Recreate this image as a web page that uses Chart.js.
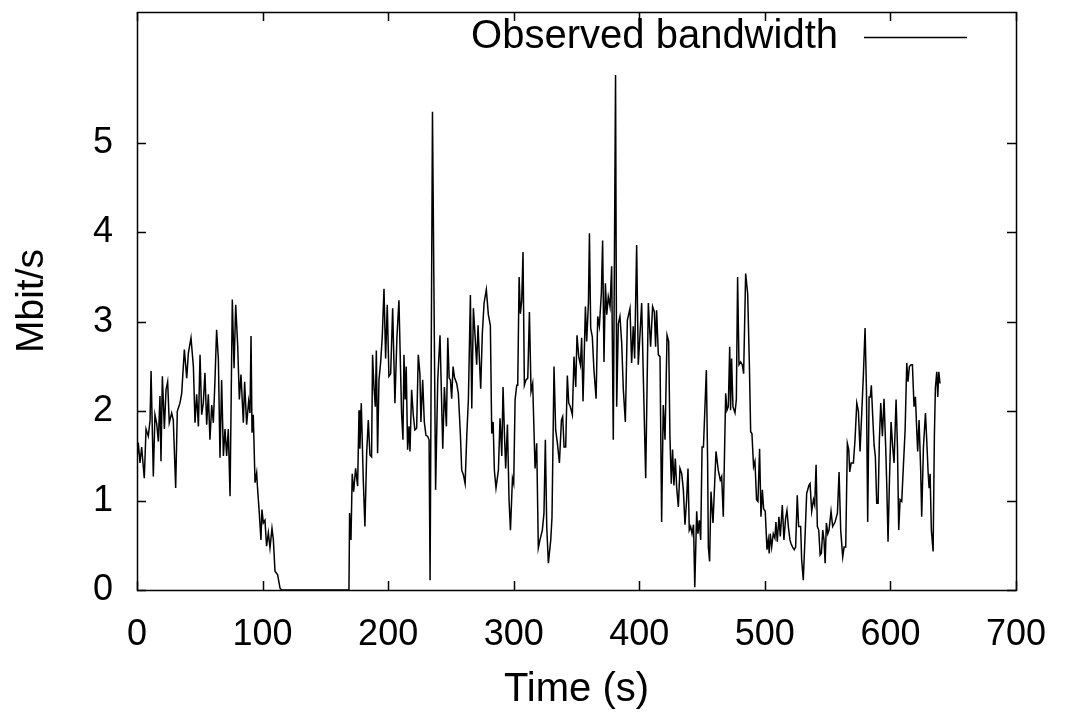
<!DOCTYPE html>
<html>
<head>
<meta charset="utf-8">
<script src="https://cdn.jsdelivr.net/npm/chart.js@4.4.1/dist/chart.umd.min.js"></script>
<style>
  html, body { margin: 0; padding: 0; background: #ffffff; }
  #wrap { width: 1072px; height: 716px; }
</style>
</head>
<body>
<div id="wrap"><canvas id="c" width="1072" height="716"></canvas></div>
<script>
// ---- data ----
const seriesLabel = "Observed bandwidth";
const xTitle = "Time (s)";
const yTitle = "Mbit/s";
const xTickValues = [0, 100, 200, 300, 400, 500, 600, 700];
const yTickValues = [0, 1, 2, 3, 4, 5];

// time (s) of each vertex of the trace
const times = [
  0, 1, 2.4, 3.7, 5.8, 7.2, 9, 10.4, 11.2, 13, 14.3, 15.7, 17, 18.3, 19.1, 20.2, 21.8, 23.1, 24.4, 25.7,
  27.6, 28.9, 30.8, 32.1, 34.2, 35.6, 37.7, 39.6, 40.9, 43, 44.9, 46.2, 47.5, 48.9, 50.2, 51.5, 52.8, 54.1, 55.5, 56.8,
  58.1, 59.5, 60.8, 62.1, 63.4, 64.8, 66.1, 67.4, 68.8, 70.1, 71.4, 72.7, 74.1, 75.9, 77.3, 78.6, 80.2, 81.5, 82.8, 84.7,
  85.7, 87.3, 88.9, 90, 90.8, 91.6, 92.6, 94, 95.3, 95.8, 97.4, 98.7, 99.5, 100.6, 101.9, 103.2, 104.6, 105.9, 107.5, 108.6,
  109.9, 112, 113.9, 115.2, 168.8,
  169.3, 170.4, 171.4, 172.5, 174.1, 175.7, 176.8, 177.5, 178.6, 180.2, 181.5, 182.9, 184.2, 185.5, 186.8, 187.6, 188.7, 189.8, 190.6, 191.6,
  192.7, 194, 195.3, 196.7, 198, 199.3, 200.6, 202, 203.6, 205.4, 207, 208.6, 209.7, 210.7, 211.8, 212.6, 213.6, 214.4, 215.5, 216.6,
  217.4, 218.7, 220, 221.3, 222.7, 224, 225.3, 226.1, 227.5, 228.8, 230.1, 231.4, 232.6, 233.4, 235.3, 237.8, 239.5, 241.3, 243.5, 244.8,
  246.4, 247.5, 248.6, 249.6, 250.6, 251.7, 252.8, 254.6, 255.9, 257.5, 258.6, 259.9, 261.3, 262.6, 263.9, 265.5, 266.6, 267.9, 269.2, 270.5,
  271.6, 272.7, 273.7, 275, 276.4, 278.2, 279.8, 281.4, 282.5, 283.6, 284.6, 285.9, 287.8, 289.1, 290.5, 291.5, 292.6, 293.6, 295, 296.3,
  297.4, 299, 300, 301.1, 302.4, 303.2, 304.3, 305.3, 306.4, 307.4, 308.5, 309.8, 311.2, 312.5, 313.8, 315.1, 317, 318.3, 319.6, 320.9,
  322.8, 324.1, 325.2, 326.3, 327.6, 329.5, 330.5, 332.1, 333.4, 334.8, 336.4, 338, 339, 340.1, 341.4, 342.7, 343.8, 345.1, 346.7, 348,
  349.4, 350.4, 351.8, 353.1, 354.1, 355.2, 356, 357.1, 358.1, 359.5, 360.3, 361.3, 362.6, 363.9, 365.6, 366.9, 368.2, 369.8, 370.8, 371.9,
  373, 374.1, 375.3, 376.7, 378, 379.3, 381.1, 382, 383.3, 384.6, 386, 387.3, 388.9, 390.5, 392.6, 393.9, 395.2, 396.3, 397.9, 399.2,
  400.6, 401.9, 403.2, 405.1, 407.2, 409, 410.6, 412, 413, 413.8, 415.2, 416.5, 417.8, 419.1, 420.5, 422.1, 423.4, 424.4, 425.5, 426.5,
  427.6, 428.7, 429.8, 431.1, 432.4, 433.8, 435.1, 436.4, 437.7, 438.8, 439.8, 440.9, 442, 443.2, 444.2, 445.7, 446.7, 447.8, 448.9, 450,
  451.1, 452.3, 453.4, 454.4, 455, 456, 457.1, 458.7, 461.1, 462.9, 464.5, 465.6, 466.9, 468.8, 469.8, 470.9, 472, 472.7, 473.5, 474.6,
  476.2, 477.3, 478.3, 479.4, 480.7, 482, 483.1, 484.7, 486.3, 487.6, 488.7, 489.7, 491, 492.1, 493.4, 494.5, 495.8, 496.9, 498, 499,
  500.3, 501.7, 502.7, 503.5, 504.3, 505.4, 506.7, 508, 508.8, 509.9, 511.2, 512.3, 513.9, 515.2, 516.5, 517.6, 518.7, 520, 520.8, 522.1,
  523.4, 524.5, 525.8, 526.9, 528.5, 529.3, 530.6, 531.9, 533.3, 535.1, 536, 537.3, 538.7, 539.7, 540.8, 541.8, 542.9, 544, 545, 546.1,
  547.1, 548, 549, 550.1, 551.1, 552.7, 554, 555.9, 557.8, 559.1, 560.4, 562, 563.1, 564.4, 565.7, 566.8, 567.6, 568.7, 570.5, 571.8,
  573.2, 574.5, 575.8, 577.1, 578.5, 579.8, 580.9, 581.9, 583, 584, 584.8, 585.9, 587, 588, 589.1, 590.2, 591.2, 592.3, 593.6, 594.9,
  596.3, 597.1, 598.1, 599.2, 600.5, 601.8, 602.9, 604.5, 605.6, 606.6, 607.7, 609, 610.3, 611.7, 613, 614, 615.1, 616.4, 617.5, 618.8,
  619.9, 620.9, 621.7, 622.8, 624.1, 624.9, 626.3, 627.9, 628.9, 630, 630.8, 631.6, 632.6, 634, 635, 635.8, 636.9, 637.7, 638.5, 639.5
];

// observed bandwidth (Mbit/s) at each vertex
const bandwidth = [
  1.45, 1.65, 1.42, 1.6, 1.25, 1.8, 1.72, 1.9, 2.45, 1.27, 1.96, 1.86, 1.66, 2.17, 1.44, 2.39, 1.8, 2.24, 2.33, 1.87,
  1.98, 1.9, 1.14, 2.0, 2.09, 2.2, 2.69, 2.37, 2.65, 2.82, 2.5, 1.87, 2.19, 1.83, 2.63, 1.96, 2.09, 2.43, 1.85, 2.19,
  1.68, 2.07, 1.87, 2.35, 2.91, 2.58, 1.48, 2.35, 1.5, 1.8, 1.5, 1.8, 1.05, 3.25, 2.48, 3.19, 2.73, 2.13, 2.41, 1.87,
  2.33, 1.85, 2.11, 1.98, 2.84, 1.76, 1.96, 1.2, 1.31, 1.18, 0.86, 0.56, 0.9, 0.75, 0.78, 0.49, 0.64, 0.47, 0.69, 0.56,
  0.21, 0.17, 0.02, 0, 0,
  0.86, 0.56, 1.3, 1.1, 1.36, 1.16, 2.01, 1.58, 2.09, 1.23, 0.71, 1.53, 1.9, 1.51, 1.49, 2.63, 2.27, 2.05, 2.68, 1.53,
  2.35, 2.54, 2.83, 3.37, 2.59, 3.19, 2.39, 2.42, 3.15, 2.09, 2.83, 3.24, 2.57, 1.98, 1.68, 2.63, 2.13, 2.5, 1.57, 1.83,
  1.55, 2.24, 1.96, 1.79, 1.81, 2.63, 2.42, 1.88, 2.35, 1.88, 1.73, 1.72, 1.68, 0.11, 5.35, 1.12, 2.35, 2.85, 1.58, 2.27,
  1.83, 2.82, 2.37, 2.35, 2.14, 2.5, 2.38, 2.31, 2.2, 1.75, 1.34, 1.29, 1.19, 1.72, 2.13, 3.3, 2.03, 3.15, 2.85, 2.52,
  2.96, 2.57, 2.25, 2.87, 3.21, 3.36, 3.08, 2.96, 1.75, 1.88, 1.34, 1.14, 1.34, 1.92, 1.5, 2.27, 1.75, 1.36, 1.85, 1.0,
  0.67, 1.25, 1.19, 2.13, 2.29, 2.29, 3.5, 3.09, 3.24, 3.78, 2.29, 2.35, 2.37, 3.11, 2.22, 2.31, 1.36, 1.64, 0.47, 0.56,
  0.67, 0.86, 1.68, 0.71, 0.3, 0.56, 0.82, 2.5, 1.79, 1.64, 1.42, 1.9, 1.94, 1.6, 1.6, 2.4, 2.09, 2.05, 1.96, 2.61,
  2.27, 2.85, 2.61, 2.52, 2.82, 2.11, 2.54, 3.17, 2.78, 3.21, 3.99, 2.93, 2.83, 2.46, 2.14, 3.06, 2.95, 3.32, 3.91, 2.55,
  3.43, 3.08, 3.28, 3.17, 3.62, 1.68, 5.76, 2.05, 2.98, 3.06, 2.76, 2.24, 1.88, 3.02, 3.15, 2.54, 2.95, 2.59, 3.86, 2.52,
  2.87, 3.21, 2.39, 1.25, 3.21, 2.72, 3.17, 3.11, 2.72, 3.13, 2.63, 2.61, 0.76, 2.07, 1.68, 2.85, 2.78, 1.72, 1.19, 1.57,
  1.17, 1.47, 1.14, 0.93, 1.36, 1.3, 1.12, 0.73, 1.01, 1.36, 0.67, 0.71, 0.63, 0.73, 0.03, 0.88, 0.63, 0.78, 0.56, 1.6,
  1.6, 2.05, 2.46, 1.45, 0.48, 0.32, 1.1, 0.75, 1.55, 1.34, 1.23, 1.27, 0.82, 2.2, 2.01, 2.05, 2.72, 2.01, 2.59, 2.05,
  1.98, 2.13, 3.5, 2.52, 2.55, 2.52, 2.42, 3.54, 3.32, 2.57, 1.77, 1.75, 1.38, 1.44, 1.01, 0.99, 1.58, 0.82, 1.12, 0.91,
  0.88, 0.45, 0.56, 0.41, 0.63, 0.48, 0.63, 0.58, 0.76, 0.54, 0.82, 0.6, 0.95, 0.56, 0.8, 0.89, 0.71, 0.56, 0.52, 0.48,
  0.45, 0.48, 1.06, 0.71, 0.71, 0.34, 0.11, 0.56, 1.08, 1.17, 1.19, 0.88, 1.01, 0.95, 1.4, 0.71, 0.67, 0.39, 0.41, 0.67,
  0.56, 0.3, 0.75, 0.63, 0.67, 0.88, 0.71, 0.76, 0.86, 1.32, 0.67, 0.37, 0.48, 0.48, 1.64, 1.57, 1.32, 1.42, 1.42, 1.68,
  2.09, 2.0, 1.55, 1.96, 2.42, 2.93, 2.24, 0.76, 2.16, 2.16, 2.29, 1.94, 1.62, 1.49, 0.97, 0.97, 1.68, 2.09, 1.72, 2.14,
  1.57, 1.16, 0.54, 1.21, 1.88, 1.6, 1.42, 2.13, 1.6, 0.67, 1.01, 0.99, 1.38, 1.79, 2.54, 2.33, 2.5, 2.52, 2.52, 2.05,
  2.16, 1.81, 1.55, 1.9, 1.34, 0.82, 1.6, 1.98, 1.68, 1.32, 1.14, 1.3, 0.67, 0.43, 1.72, 2.26, 2.44, 2.16, 2.44, 2.31
];

// ---- chart ----
const FONT = "'Liberation Sans', Arial, Helvetica, sans-serif";
const points = times.map((t, i) => ({ x: t, y: bandwidth[i] }));

const framePlugin = {
  id: 'gnuplotFrame',
  afterDatasetsDraw(chart) {
    const { ctx, chartArea: a, scales } = chart;
    const tick = 9;
    ctx.save();
    ctx.strokeStyle = '#000';
    ctx.lineWidth = 1.5;
    ctx.beginPath();
    xTickValues.forEach(v => {
      const px = Math.round(scales.x.getPixelForValue(v)) + 0.5;
      ctx.moveTo(px, a.bottom); ctx.lineTo(px, a.bottom - tick);
      ctx.moveTo(px, a.top); ctx.lineTo(px, a.top + tick);
    });
    yTickValues.forEach(v => {
      const py = Math.round(scales.y.getPixelForValue(v)) + 0.5;
      ctx.moveTo(a.left, py); ctx.lineTo(a.left + tick, py);
      ctx.moveTo(a.right, py); ctx.lineTo(a.right - tick, py);
    });
    ctx.stroke();
    ctx.strokeRect(a.left + 0.5, a.top + 0.5, a.right - a.left, a.bottom - a.top);
    // key (legend) in gnuplot style: text then line sample
    const ds = chart.data.datasets[0];
    const ky = a.top + 25;
    ctx.fillStyle = '#000';
    ctx.font = '40px ' + FONT;
    ctx.textAlign = 'right';
    ctx.textBaseline = 'middle';
    ctx.fillText(ds.label, a.right - 178, ky);
    ctx.beginPath();
    ctx.lineWidth = ds.borderWidth;
    ctx.strokeStyle = ds.borderColor;
    ctx.moveTo(a.right - 152, ky + 0.5);
    ctx.lineTo(a.right - 49, ky + 0.5);
    ctx.stroke();
    ctx.restore();
  }
};

new Chart(document.getElementById('c'), {
  type: 'line',
  data: {
    datasets: [{
      label: seriesLabel,
      data: points,
      borderColor: '#000000',
      borderWidth: 1.5,
      pointRadius: 0,
      tension: 0,
      fill: false
    }]
  },
  options: {
    responsive: false,
    animation: false,
    layout: { padding: { left: 0, right: 56, top: 12, bottom: 0 } },
    plugins: { legend: { display: false }, tooltip: { enabled: false } },
    scales: {
      x: {
        type: 'linear',
        min: 0, max: 700,
        afterBuildTicks: s => { s.ticks = xTickValues.map(v => ({ value: v })); },
        afterFit: s => { s.height = 126; s.paddingLeft = 0; s.paddingRight = 0; },
        grid: { display: false },
        border: { display: false },
        ticks: { color: '#000', font: { family: FONT, size: 36 }, padding: 15, maxRotation: 0, autoSkip: false },
        title: { display: true, text: xTitle, color: '#000', font: { family: FONT, size: 40 }, padding: { top: 0, bottom: 2 } }
      },
      y: {
        type: 'linear',
        min: 0, max: 6.465,
        afterBuildTicks: s => { s.ticks = yTickValues.map(v => ({ value: v })); },
        afterFit: s => { s.width = 137; s.paddingTop = 0; s.paddingBottom = 0; },
        grid: { display: false },
        border: { display: false },
        ticks: { color: '#000', font: { family: FONT, size: 36 }, padding: 16 },
        title: { display: true, text: yTitle, color: '#000', font: { family: FONT, size: 39 }, padding: { top: 9, bottom: 0 } }
      }
    }
  },
  plugins: [framePlugin]
});
</script>
</body>
</html>
